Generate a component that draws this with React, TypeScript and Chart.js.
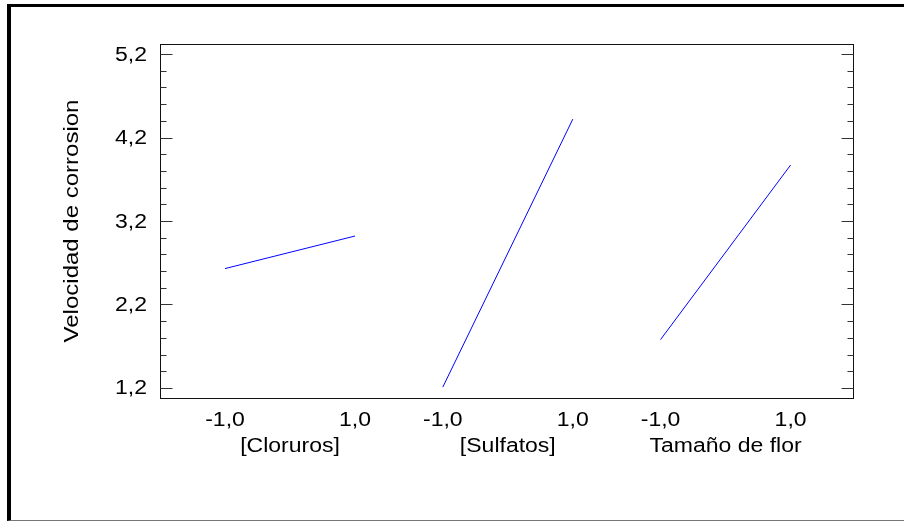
import React, { useEffect, useRef } from 'react';
import { Chart, registerables } from 'chart.js';

Chart.register(...registerables);

// Main effects on corrosion rate: mean response at the low (-1) and high (+1) level of each factor
const factors = ['[Cloruros]', '[Sulfatos]', 'Tamaño de flor'];
const levels = [-1, 1];
const levelLabels = ['-1,0', '1,0'];
const cloruros = [2.63, 3.02];
const sulfatos = [1.21, 4.42];
const tamanoFlor = [1.78, 3.87];
const yTicks = [1.2, 2.2, 3.2, 4.2, 5.2];
const yTitle = 'Velocidad de corrosion';

const FONT_FAMILY = "'Liberation Sans', Arial, sans-serif";
const FONT_SIZE = 20;
const TEXT_STRETCH = 1.15; // wide, horizontally stretched lettering
const TITLE_STRETCH = 1.2;
const LINE_COLOR = '#0000ff';

// Each factor gets its own panel on a shared linear x axis
const FIRST_CENTER = 2;
const GROUP_STEP = 3.35;
const X_MAX = 10.66;
const Y_MIN = 1.08;
const Y_MAX = 5.32;

const groupCenter = (i: number) => FIRST_CENTER + i * GROUP_STEP;

const fmt = (v: number) => v.toFixed(1).replace('.', ',');

function drawText(
  ctx: CanvasRenderingContext2D,
  text: string,
  x: number,
  y: number,
  align: CanvasTextAlign,
  stretch: number,
  rotate = 0,
) {
  ctx.save();
  ctx.translate(x, y);
  if (rotate) ctx.rotate(rotate);
  ctx.scale(stretch, 1);
  ctx.font = `${FONT_SIZE}px ${FONT_FAMILY}`;
  ctx.fillStyle = '#000';
  ctx.textAlign = align;
  ctx.textBaseline = 'middle';
  ctx.fillText(text, 0, 0);
  ctx.restore();
}

// Frame, inward ticks on both y sides, and all axis lettering
const framePlugin = {
  id: 'frameTicks',
  afterDraw(chart: Chart) {
    const { ctx, chartArea } = chart;
    const y = chart.scales.y;
    const x = chart.scales.x;
    const left = Math.round(chartArea.left) + 0.5;
    const right = Math.round(chartArea.right) + 0.5;
    const top = Math.round(chartArea.top) + 0.5;
    const bottom = Math.round(chartArea.bottom) + 0.5;
    ctx.save();
    ctx.strokeStyle = '#111';
    ctx.lineWidth = 1;
    ctx.strokeRect(left, top, right - left, bottom - top);
    ctx.strokeStyle = '#333';
    const lo = yTicks[0];
    const hi = yTicks[yTicks.length - 1];
    const steps = Math.round((hi - lo) / 0.2);
    for (let k = 0; k <= steps; k++) {
      const v = lo + k * 0.2;
      const major = k % 5 === 0;
      const len = major ? 12 : 6;
      const py = Math.round(y.getPixelForValue(v)) + 0.5;
      ctx.beginPath();
      ctx.moveTo(left, py);
      ctx.lineTo(left + len, py);
      ctx.moveTo(right, py);
      ctx.lineTo(right - len, py);
      ctx.stroke();
    }
    ctx.restore();

    // y tick labels
    yTicks.forEach((v) => {
      drawText(ctx, fmt(v), chartArea.left - 13, y.getPixelForValue(v) + 1, 'right', TEXT_STRETCH);
    });
    // level labels and factor names under each panel
    factors.forEach((name, i) => {
      const c = groupCenter(i);
      levels.forEach((lv, j) => {
        drawText(ctx, levelLabels[j], x.getPixelForValue(c + lv), chartArea.bottom + 22, 'center', TEXT_STRETCH);
      });
      drawText(ctx, name, x.getPixelForValue(c), chartArea.bottom + 48, 'center', TEXT_STRETCH);
    });
    // y axis title
    drawText(ctx, yTitle, 72, (chartArea.top + chartArea.bottom) / 2, 'center', TITLE_STRETCH, -Math.PI / 2);
  },
};

export default function App() {
  const canvasRef = useRef<HTMLCanvasElement | null>(null);

  useEffect(() => {
    if (!canvasRef.current) return;
    const series = [cloruros, sulfatos, tamanoFlor];

    const chart = new Chart(canvasRef.current, {
      type: 'line',
      data: {
        datasets: factors.map((name, i) => ({
          label: name,
          data: levels.map((lv, j) => ({ x: groupCenter(i) + lv, y: series[i][j] })),
          borderColor: LINE_COLOR,
          borderWidth: 1,
          pointRadius: 0,
          fill: false,
        })),
      },
      options: {
        responsive: false,
        animation: false,
        layout: { padding: { left: 0, top: 44, right: 51, bottom: 0 } },
        plugins: { legend: { display: false }, tooltip: { enabled: false } },
        scales: {
          x: {
            type: 'linear',
            min: 0,
            max: X_MAX,
            grid: { display: false, drawTicks: false },
            border: { display: false },
            ticks: { display: false },
            afterFit: (scale: any) => {
              scale.height = 124;
            },
          },
          y: {
            type: 'linear',
            min: Y_MIN,
            max: Y_MAX,
            grid: { display: false, drawTicks: false },
            border: { display: false },
            ticks: { display: false },
            afterFit: (scale: any) => {
              scale.width = 160;
            },
          },
        },
      },
      plugins: [framePlugin],
    });
    return () => chart.destroy();
  }, []);

  return (
    <div style={{ position: 'fixed', left: 0, top: 0, width: 904, height: 522, background: '#fff', overflow: 'hidden' }}>
      <div
        style={{
          position: 'absolute',
          left: 7,
          top: 4,
          width: 904,
          height: 517,
          borderTop: '3px solid #000',
          borderLeft: '4px solid #000',
          borderBottom: '1px solid #777',
          boxSizing: 'border-box',
        }}
      />
      <canvas ref={canvasRef} width={904} height={522} style={{ position: 'absolute', left: 0, top: 0 }} />
    </div>
  );
}
